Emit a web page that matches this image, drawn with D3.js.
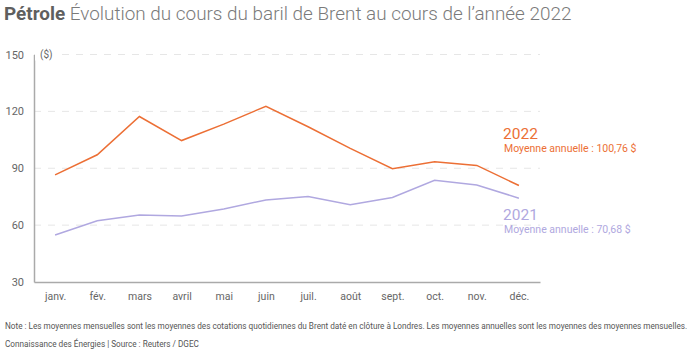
<!DOCTYPE html>
<html lang="fr">
<head>
  <meta charset="UTF-8">
  <title>Pétrole</title>
  <script src="https://d3js.org/d3.v7.min.js"></script>
  <style>
    body { margin: 0; background: #fff; font-family: Roboto, sans-serif; }
  </style>
</head>
<body>
  <div id="chart"></div>
  <script>
    const months = ["janv.", "fév.", "mars", "avril", "mai", "juin", "juil.", "août", "sept.", "oct.", "nov.", "déc."];
    const brent2022 = [86.5, 97.1, 117.3, 104.6, 113.3, 122.7, 111.9, 100.5, 89.8, 93.4, 91.5, 80.9];
    const brent2021 = [54.8, 62.3, 65.4, 64.8, 68.5, 73.3, 75.1, 70.8, 74.6, 83.7, 81.2, 74.2];
    const yTicks = [30, 60, 90, 120, 150];
    const seriesNames = ["2022", "2021"];
    const averages = ["100,76", "70,68"];

    const width = 700, height = 350;
    const margin = { top: 54.5, right: 160, bottom: 68, left: 34 };
    const orange = "#ec6f35";
    const purple = "#b0a8e0";

    const svg = d3.select("#chart")
      .append("svg")
      .attr("width", width)
      .attr("height", height);

    const x = d3.scalePoint()
      .domain(months)
      .range([margin.left, width - margin.right])
      .padding(0.5);

    const y = d3.scaleLinear()
      .domain([30, 150])
      .range([height - margin.bottom, margin.top]);

    // title
    const title = svg.append("text")
      .attr("x", 4)
      .attr("y", 20)
      .attr("font-size", "18.9px");
    title.append("tspan").attr("font-weight", "bold").attr("fill", "#5f5f5f").text("Pétrole");
    title.append("tspan").attr("font-weight", 300).attr("fill", "#7a7a7a").text(" Évolution du cours du baril de Brent au cours de l’année 2022");

    // grid
    svg.append("g")
      .selectAll("line")
      .data(yTicks.filter(d => d > 30))
      .join("line")
      .attr("x1", margin.left)
      .attr("x2", width - margin.right)
      .attr("y1", d => y(d))
      .attr("y2", d => y(d))
      .attr("stroke", "#e6e6e6")
      .attr("stroke-dasharray", "7,7");

    // y axis
    const yAxis = svg.append("g")
      .attr("transform", `translate(${margin.left},0)`)
      .call(d3.axisLeft(y).tickValues(yTicks).tickSize(0).tickSizeOuter(0).tickPadding(10));
    yAxis.select(".domain").attr("stroke", "#aaa").attr("stroke-width", 1.5);
    yAxis.selectAll("text").attr("fill", "#666").attr("font-size", "11px").attr("font-family", "Roboto, sans-serif");

    // x axis
    const xAxis = svg.append("g")
      .attr("transform", `translate(0,${y(30)})`)
      .call(d3.axisBottom(x).tickSize(0).tickSizeOuter(0).tickPadding(11));
    xAxis.select(".domain").attr("stroke", "#aaa").attr("stroke-width", 1.5);
    xAxis.selectAll("text").attr("fill", "#666").attr("font-size", "10.5px").attr("font-family", "Roboto, sans-serif");

    // unit label sits on a white patch over the top grid line
    svg.append("rect")
      .attr("x", margin.left + 1)
      .attr("y", y(150) - 6)
      .attr("width", 22)
      .attr("height", 12)
      .attr("fill", "#fff");
    svg.append("text")
      .attr("x", 40)
      .attr("y", y(150) + 3.5)
      .attr("font-size", "10px")
      .attr("fill", "#666")
      .text("($)");

    // lines
    const line = d3.line()
      .x((d, i) => x(months[i]))
      .y(d => y(d));

    svg.append("path")
      .datum(brent2021)
      .attr("d", line)
      .attr("fill", "none")
      .attr("stroke", purple)
      .attr("stroke-width", 1.5);

    svg.append("path")
      .datum(brent2022)
      .attr("d", line)
      .attr("fill", "none")
      .attr("stroke", orange)
      .attr("stroke-width", 1.5);

    // series labels
    const labelY = [139, 220];
    const labelColors = [orange, purple];
    seriesNames.forEach((name, i) => {
      svg.append("text")
        .attr("x", 503)
        .attr("y", labelY[i])
        .attr("font-size", "15.5px")
        .attr("fill", labelColors[i])
        .text(name);
      svg.append("text")
        .attr("x", 504)
        .attr("y", labelY[i] + 13)
        .attr("font-size", "10.5px")
        .attr("fill", labelColors[i])
        .text("Moyenne annuelle : " + averages[i] + " $");
    });

    // notes
    svg.append("text")
      .attr("x", 5)
      .attr("y", 328.5)
      .attr("font-size", "8.2px")
      .attr("fill", "#555")
      .text("Note : Les moyennes mensuelles sont les moyennes des cotations quotidiennes du Brent daté en clôture à Londres. Les moyennes annuelles sont les moyennes des moyennes mensuelles.");

    svg.append("text")
      .attr("x", 5)
      .attr("y", 346.5)
      .attr("font-size", "8.2px")
      .attr("fill", "#555")
      .text("Connaissance des Énergies | Source : Reuters / DGEC");
  </script>
</body>
</html>
